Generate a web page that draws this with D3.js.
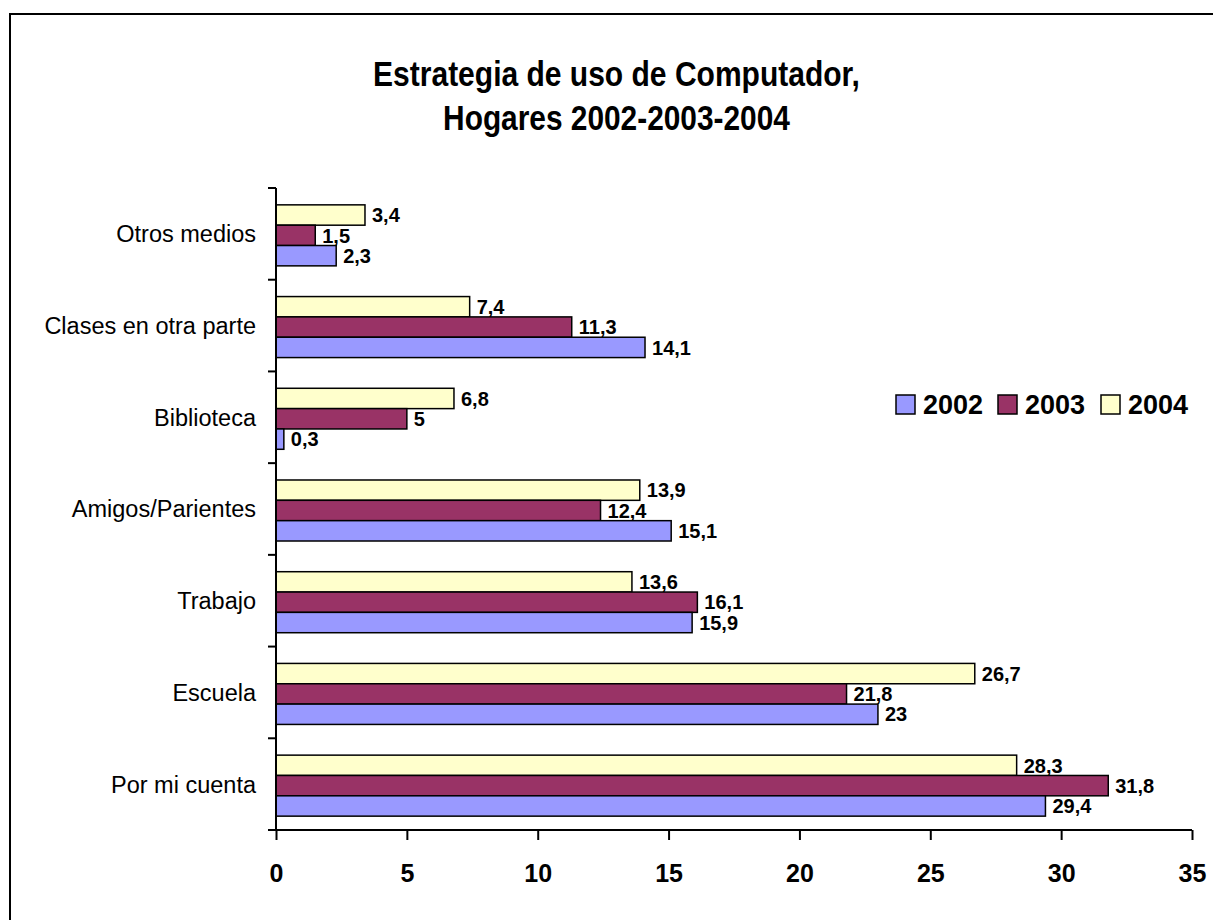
<!DOCTYPE html>
<html>
<head>
<meta charset="utf-8">
<script src="https://cdn.jsdelivr.net/npm/d3@7"></script>
<style>
  html, body { margin: 0; padding: 0; background: #fff; }
  svg { display: block; }
</style>
</head>
<body>
<svg id="chart" width="1213" height="920"></svg>
<script>
// ---- data ----
const categories = ["Otros medios", "Clases en otra parte", "Biblioteca", "Amigos/Parientes", "Trabajo", "Escuela", "Por mi cuenta"];
const seriesNames = ["2004", "2003", "2002"]; // top-to-bottom inside each group
const values2002 = [2.3, 14.1, 0.3, 15.1, 15.9, 23, 29.4];
const values2003 = [1.5, 11.3, 5, 12.4, 16.1, 21.8, 31.8];
const values2004 = [3.4, 7.4, 6.8, 13.9, 13.6, 26.7, 28.3];
const xTicks = [0, 5, 10, 15, 20, 25, 30, 35];
const legendOrder = ["2002", "2003", "2004"];
const titleLines = ["Estrategia de uso de Computador,", "Hogares 2002-2003-2004"];

const seriesValues = { "2002": values2002, "2003": values2003, "2004": values2004 };
const colors = { "2002": "#9999FF", "2003": "#993366", "2004": "#FFFFCC" };

const svg = d3.select("#chart");
const fontBase = "'Liberation Sans', Arial, sans-serif";
const fontNarrow = "'Liberation Sans Narrow', 'Arial Narrow', 'Liberation Sans', Arial, sans-serif";

// frame
svg.append("rect").attr("x", 10).attr("y", 14).attr("width", 1240).attr("height", 940)
  .attr("fill", "none").attr("stroke", "#000").attr("stroke-width", 2);

// title (condensed horizontally to mimic a narrow face)
const titleTargets = [487, 347];
titleLines.forEach((t, i) => {
  const g = svg.append("g");
  const txt = g.append("text")
    .attr("x", 0).attr("y", 0)
    .attr("text-anchor", "middle")
    .attr("font-family", fontNarrow).attr("font-weight", "bold")
    .attr("font-size", 35).attr("fill", "#000")
    .text(t);
  const w = txt.node().getComputedTextLength();
  const sx = Math.min(1, titleTargets[i] / w);
  g.attr("transform", `translate(616.5,${86 + i * 44}) scale(${sx},1)`);
});

// scales
const x = d3.scaleLinear().domain([0, 35]).range([276, 1192]);
const y = d3.scaleBand().domain(categories).range([188, 830]).padding(0);
const groupFrac = 61 / 91.7;
const ySub = d3.scaleBand().domain(seriesNames)
  .range([0, y.bandwidth() * groupFrac]);
const groupOffset = (y.bandwidth() - y.bandwidth() * groupFrac) / 2 + 1.5;

// bars
const barsG = svg.append("g");
seriesNames.forEach(s => {
  categories.forEach((c, i) => {
    const v = seriesValues[s][i];
    barsG.append("rect")
      .attr("x", x(0))
      .attr("y", y(c) + groupOffset + ySub(s))
      .attr("width", x(v) - x(0))
      .attr("height", ySub.bandwidth())
      .attr("fill", colors[s])
      .attr("stroke", "#000").attr("stroke-width", 1.5);
    barsG.append("text")
      .attr("x", x(v) + 7)
      .attr("y", y(c) + groupOffset + ySub(s) + ySub.bandwidth() / 2)
      .attr("dy", "0.36em")
      .attr("font-family", fontBase).attr("font-weight", "bold")
      .attr("font-size", 20).attr("fill", "#000")
      .text(String(v).replace(".", ","));
  });
});

// y axis
const yAxisG = svg.append("g");
yAxisG.append("line").attr("x1", x(0)).attr("x2", x(0)).attr("y1", 188).attr("y2", 830)
  .attr("stroke", "#000").attr("stroke-width", 2);
const boundaries = categories.map(c => y(c)).concat([830]);
boundaries.forEach(b => {
  yAxisG.append("line").attr("x1", x(0) - 8).attr("x2", x(0)).attr("y1", b).attr("y2", b)
    .attr("stroke", "#000").attr("stroke-width", 2);
});
categories.forEach(c => {
  yAxisG.append("text")
    .attr("x", 256).attr("y", y(c) + y.bandwidth() / 2)
    .attr("dy", "0.36em")
    .attr("text-anchor", "end")
    .attr("font-family", fontBase).attr("font-size", 23.5).attr("fill", "#000")
    .text(c);
});

// x axis
const xAxis = d3.axisBottom(x).tickValues(xTicks).tickSize(10).tickPadding(24)
  .tickFormat(d3.format("d"));
const xAxisG = svg.append("g").attr("transform", "translate(0,830)").call(xAxis);
xAxisG.select(".domain").attr("stroke", "#000").attr("stroke-width", 2)
  .attr("d", `M${x(0) - 8},0H${x(35)}`);
xAxisG.selectAll(".tick line").attr("stroke", "#000").attr("stroke-width", 2);
xAxisG.selectAll(".tick text")
  .attr("font-family", fontBase).attr("font-weight", "bold")
  .attr("font-size", 25).attr("fill", "#000");

// legend
const legendG = svg.append("g");
const legendX = { "2002": 896, "2003": 998, "2004": 1101 };
legendOrder.forEach(s => {
  legendG.append("rect").attr("x", legendX[s]).attr("y", 395).attr("width", 19).attr("height", 19)
    .attr("fill", colors[s]).attr("stroke", "#000").attr("stroke-width", 1.5);
  legendG.append("text").attr("x", legendX[s] + 27).attr("y", 414)
    .attr("font-family", fontBase).attr("font-weight", "bold")
    .attr("font-size", 27).attr("fill", "#000").text(s);
});
</script>
</body>
</html>
